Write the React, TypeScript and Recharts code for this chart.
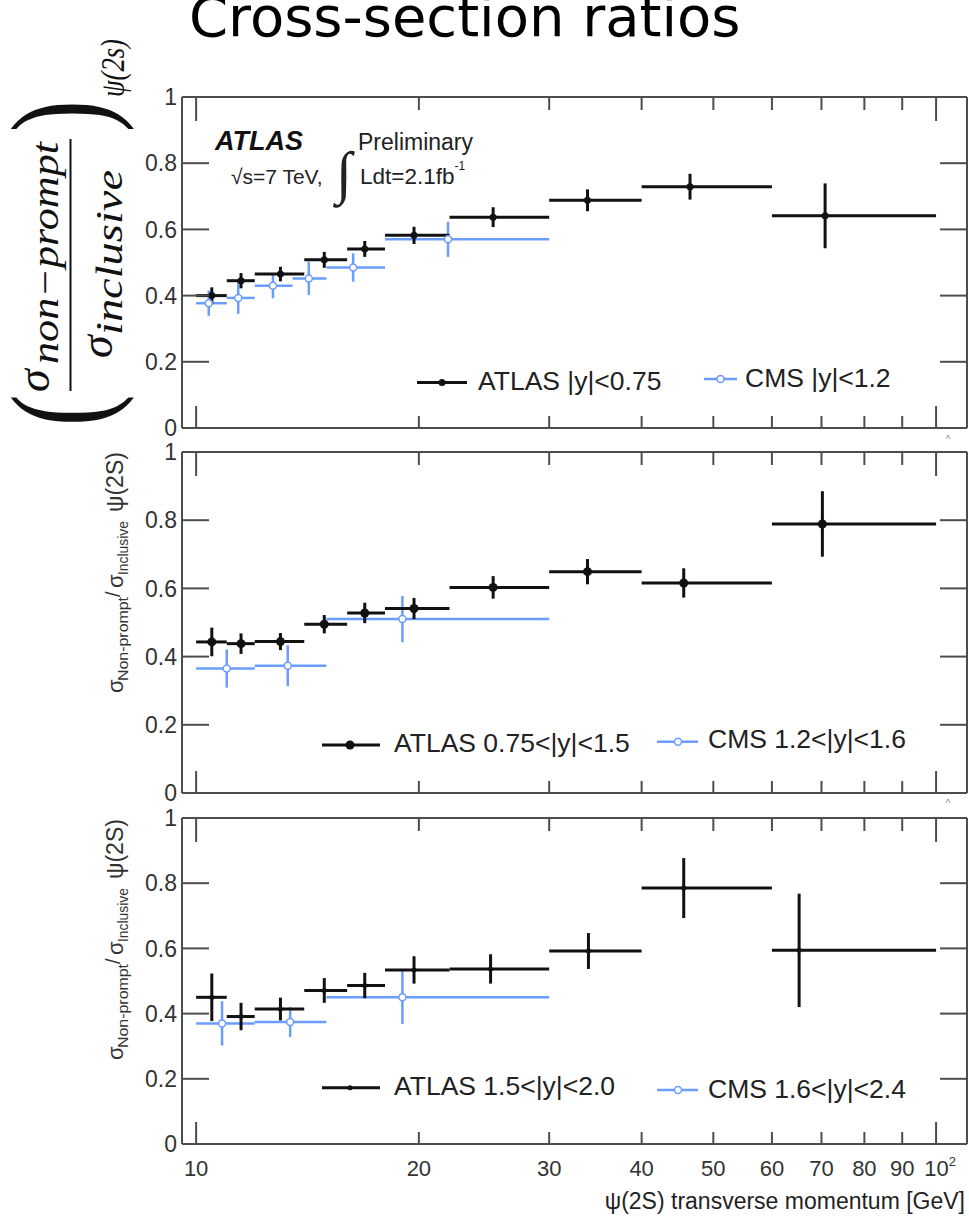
import React from 'react';
import { ScatterChart, Scatter, XAxis, YAxis, ErrorBar, Legend } from 'recharts';

// ---------- data ----------
const xTicks = [10, 20, 30, 40, 50, 60, 70, 80, 90, 100];
const yTicks = [0, 0.2, 0.4, 0.6, 0.8, 1];

const atlasBinEdges = [10, 11, 12, 14, 16, 18, 22, 30, 40, 60, 100];
const cmsBinEdgesCentral = [10, 11, 12, 13.5, 15, 18, 30];
const cmsBinEdgesForward = [10, 12, 15, 30];

// panel 1 : ATLAS |y|<0.75 , CMS |y|<1.2
const atlasCentres1 = [10.5, 11.5, 13.0, 14.9, 16.9, 19.7, 25.2, 33.8, 46.5, 70.8];
const atlasRatio1 = [0.4, 0.445, 0.465, 0.508, 0.541, 0.582, 0.637, 0.688, 0.729, 0.641];
const atlasError1 = [0.025, 0.023, 0.022, 0.024, 0.024, 0.026, 0.03, 0.033, 0.039, 0.098];
const cmsCentres1 = [10.4, 11.4, 12.7, 14.2, 16.3, 21.9];
const cmsRatio1 = [0.377, 0.393, 0.43, 0.452, 0.485, 0.57];
const cmsError1 = [0.038, 0.048, 0.038, 0.05, 0.043, 0.053];

// panel 2 : ATLAS 0.75<|y|<1.5 , CMS 1.2<|y|<1.6
const atlasCentres2 = [10.5, 11.5, 13.0, 14.9, 16.9, 19.7, 25.2, 33.8, 45.6, 70.2];
const atlasRatio2 = [0.443, 0.438, 0.444, 0.495, 0.528, 0.541, 0.603, 0.649, 0.616, 0.789];
const atlasError2 = [0.042, 0.03, 0.025, 0.027, 0.03, 0.031, 0.033, 0.037, 0.043, 0.096];
const cmsCentres2 = [11.0, 13.3, 19.0];
const cmsRatio2 = [0.365, 0.373, 0.51];
const cmsError2 = [0.056, 0.06, 0.068];

// panel 3 : ATLAS 1.5<|y|<2.0 , CMS 1.6<|y|<2.4
const atlasCentres3 = [10.5, 11.5, 13.0, 14.9, 16.9, 19.7, 25.0, 33.9, 45.6, 65.3];
const atlasRatio3 = [0.45, 0.391, 0.414, 0.471, 0.486, 0.534, 0.537, 0.592, 0.785, 0.594];
const atlasError3 = [0.073, 0.042, 0.035, 0.038, 0.039, 0.042, 0.045, 0.055, 0.092, 0.174];
const cmsCentres3 = [10.84, 13.4, 19.0];
const cmsRatio3 = [0.37, 0.374, 0.45];
const cmsError3 = [0.068, 0.046, 0.082];

const atlasLabels = ['ATLAS |y|<0.75', 'ATLAS 0.75<|y|<1.5', 'ATLAS 1.5<|y|<2.0'];
const cmsLabels = ['CMS |y|<1.2', 'CMS 1.2<|y|<1.6', 'CMS 1.6<|y|<2.4'];

// ---------- helpers ----------
type Row = { x: number; y: number; ex: [number, number]; ey: number };
function makeRows(edges: number[], centres: number[], ratio: number[], err: number[]): Row[] {
  return centres.map((c, i) => ({ x: c, y: ratio[i], ex: [c - edges[i], edges[i + 1] - c], ey: err[i] }));
}

const W = 969;
const FRAME = '#4d4d4d';
const ATLAS_C = '#111111';
const CMS_C = '#6b9dff';
const SANS = '"Liberation Sans", Arial, Helvetica, sans-serif';
const SERIF = '"Liberation Serif", "Times New Roman", serif';
const X_DOMAIN: [number, number] = [9.57, 110.1];

const BottomTick = (p: any) => {
  const v = p.payload.value;
  const major = v === 10 || v === 100;
  return (
    <g>
      <line x1={p.x} x2={p.x} y1={p.y} y2={p.y - (major ? 22 : 12)} stroke={FRAME} strokeWidth={2} />
      {p.showLabel && (
        <text x={v === 100 ? p.x + 4 : p.x} y={p.y + 32} textAnchor="middle" fontSize={22} fill="#333" fontFamily={SANS}>
          {v === 100 ? (
            <>
              10<tspan dy={-10} fontSize={13}>2</tspan>
            </>
          ) : (
            String(v)
          )}
        </text>
      )}
    </g>
  );
};

const TopTick = (p: any) => {
  const v = p.payload.value;
  const major = v === 10 || v === 100;
  return <line x1={p.x} x2={p.x} y1={p.y} y2={p.y + (major ? 24 : 13)} stroke={FRAME} strokeWidth={2} />;
};

const LeftTick = (p: any) => {
  const v = p.payload.value;
  return (
    <g>
      {v > 0 && v < 1 && <line x1={p.x} x2={p.x + 27} y1={p.y} y2={p.y} stroke={FRAME} strokeWidth={2} />}
      <text x={p.x - 5} y={p.y} dy="0.36em" textAnchor="end" fontSize={23} fill="#333" fontFamily={SANS}>
        {String(v)}
      </text>
    </g>
  );
};

const RightTick = (p: any) => {
  const v = p.payload.value;
  if (!(v > 0 && v < 1)) return <g />;
  return <line x1={p.x} x2={p.x - 27} y1={p.y} y2={p.y} stroke={FRAME} strokeWidth={2} />;
};

type LegendPos = {
  aLine: [number, number, number];
  aMark: number;
  aText: [number, number];
  cLine: [number, number, number];
  cMark: number;
  cText: [number, number];
};

type PanelProps = {
  top: number;
  height: number;
  marginTop: number;
  marginBottom: number;
  bottomAxisHeight: number;
  showXLabels: boolean;
  atlas: Row[];
  cms: Row[];
  atlasLabel: string;
  cmsLabel: string;
  atlasR: number;
  legend: LegendPos;
};

function Panel(props: PanelProps) {
  const { top, height, marginTop, marginBottom, bottomAxisHeight, showXLabels, atlas, cms, atlasLabel, cmsLabel, atlasR, legend } = props;
  const legendContent = () => (
    <svg width={W} height={height} style={{ display: 'block' }}>
      <line x1={legend.aLine[0]} x2={legend.aLine[1]} y1={legend.aLine[2]} y2={legend.aLine[2]} stroke={ATLAS_C} strokeWidth={3} />
      <circle cx={legend.aMark} cy={legend.aLine[2]} r={atlasR} fill={ATLAS_C} />
      <text x={legend.aText[0]} y={legend.aText[1]} fontSize={26.5} fill="#222" fontFamily={SANS}>
        {atlasLabel}
      </text>
      <line x1={legend.cLine[0]} x2={legend.cLine[1]} y1={legend.cLine[2]} y2={legend.cLine[2]} stroke={CMS_C} strokeWidth={2.5} />
      <circle cx={legend.cMark} cy={legend.cLine[2]} r={3.5} fill="#fff" stroke={CMS_C} strokeWidth={1.5} />
      <text x={legend.cText[0]} y={legend.cText[1]} fontSize={26.5} fill="#222" fontFamily={SANS}>
        {cmsLabel}
      </text>
    </svg>
  );
  return (
    <div style={{ position: 'absolute', left: 0, top, width: W, height }}>
      <ScatterChart width={W} height={height} margin={{ top: marginTop, right: 1, bottom: marginBottom, left: 142 }}>
        <XAxis
          xAxisId="b"
          orientation="bottom"
          type="number"
          dataKey="x"
          scale="log"
          domain={X_DOMAIN}
          allowDataOverflow
          ticks={xTicks}
          interval={0}
          tickSize={0}
          tickMargin={0}
          tickLine={false}
          axisLine={{ stroke: FRAME, strokeWidth: 2 }}
          height={bottomAxisHeight}
          tick={(p: any) => <BottomTick {...p} showLabel={showXLabels} />}
        />
        <XAxis
          xAxisId="t"
          orientation="top"
          type="number"
          dataKey="x"
          scale="log"
          domain={X_DOMAIN}
          allowDataOverflow
          ticks={xTicks}
          interval={0}
          tickSize={0}
          tickMargin={0}
          tickLine={false}
          axisLine={{ stroke: FRAME, strokeWidth: 2 }}
          height={1}
          tick={(p: any) => <TopTick {...p} />}
        />
        <YAxis
          yAxisId="l"
          orientation="left"
          type="number"
          dataKey="y"
          domain={[0, 1]}
          allowDataOverflow
          ticks={yTicks}
          interval={0}
          tickSize={0}
          tickMargin={0}
          tickLine={false}
          axisLine={{ stroke: FRAME, strokeWidth: 2 }}
          width={40}
          tick={(p: any) => <LeftTick {...p} />}
        />
        <YAxis
          yAxisId="r"
          orientation="right"
          type="number"
          dataKey="y"
          domain={[0, 1]}
          allowDataOverflow
          ticks={yTicks}
          interval={0}
          tickSize={0}
          tickMargin={0}
          tickLine={false}
          axisLine={{ stroke: FRAME, strokeWidth: 2 }}
          width={1}
          tick={(p: any) => <RightTick {...p} />}
        />
        <Scatter
          name={cmsLabel}
          data={cms}
          xAxisId="b"
          yAxisId="l"
          fill={CMS_C}
          isAnimationActive={false}
          shape={(s: any) => <circle cx={s.cx} cy={s.cy} r={3.5} fill="#fff" stroke={CMS_C} strokeWidth={1.5} />}
        >
          <ErrorBar dataKey="ex" direction="x" width={0} stroke={CMS_C} strokeWidth={2.5} />
          <ErrorBar dataKey="ey" direction="y" width={0} stroke={CMS_C} strokeWidth={2.5} />
        </Scatter>
        <Scatter
          name={atlasLabel}
          data={atlas}
          xAxisId="b"
          yAxisId="l"
          fill={ATLAS_C}
          isAnimationActive={false}
          shape={(s: any) => <circle cx={s.cx} cy={s.cy} r={atlasR} fill={ATLAS_C} />}
        >
          <ErrorBar dataKey="ex" direction="x" width={0} stroke={ATLAS_C} strokeWidth={3} />
          <ErrorBar dataKey="ey" direction="y" width={0} stroke={ATLAS_C} strokeWidth={3} />
        </Scatter>
        <Legend
          layout="horizontal"
          verticalAlign="middle"
          align="center"
          content={legendContent}
          wrapperStyle={{ left: 0, top: 0, width: W, height, pointerEvents: 'none' }}
        />
      </ScatterChart>
    </div>
  );
}

function SmallYLabel({ startY }: { startY: number }) {
  // rotated label: σ_Non-prompt / σ_Inclusive ψ(2S)
  return (
    <g transform={`translate(123, ${startY}) rotate(-90)`} fontFamily={SANS} fill="#333">
      <text x={0} y={0} fontSize={22}>σ</text>
      <text x={12} y={5} fontSize={15.5} textLength={84} lengthAdjust="spacingAndGlyphs">Non-prompt</text>
      <text x={96} y={-3} fontSize={20}>/</text>
      <text x={105} y={0} fontSize={22}>σ</text>
      <text x={118} y={5} fontSize={14.5} textLength={54} lengthAdjust="spacingAndGlyphs">Inclusive</text>
      <text x={181} y={0} fontSize={23} textLength={60} lengthAdjust="spacingAndGlyphs">ψ(2S)</text>
    </g>
  );
}

function Overlay() {
  return (
    <svg width={W} height={1218} style={{ position: 'absolute', left: 0, top: 0, pointerEvents: 'none' }}>
      {/* title */}
      <text x={189} y={36} fontSize={56} fontFamily='"DejaVu Sans", sans-serif' fill="#000">
        Cross-section ratios
      </text>

      {/* panel 1 y label */}
      <g transform="translate(72, 265) rotate(-90)" fontFamily={SERIF} fontStyle="italic" fill="#111">
        <text transform="translate(-161, 33) scale(1, 1.42)" fontSize={95} fontStyle="normal">(</text>
        <text x={-127} y={-23} fontSize={46}>σ</text>
        <text x={-99} y={-14} fontSize={38} textLength={222} lengthAdjust="spacingAndGlyphs">non−prompt</text>
        <line x1={-126} x2={126} y1={-1.5} y2={-1.5} stroke="#111" strokeWidth={2} />
        <text x={-93} y={40} fontSize={46}>σ</text>
        <text x={-70} y={50} fontSize={38} textLength={165} lengthAdjust="spacingAndGlyphs">inclusive</text>
        <text transform="translate(133, 33) scale(1, 1.42)" fontSize={95} fontStyle="normal">)</text>
        <text x={168} y={52} fontSize={33} textLength={58} lengthAdjust="spacingAndGlyphs">ψ(2s)</text>
      </g>

      {/* panel 2, 3 y labels */}
      <SmallYLabel startY={693} />
      <SmallYLabel startY={1060} />

      {/* ATLAS annotation */}
      <text x={215} y={150} fontSize={27} fontWeight="bold" fontStyle="italic" fontFamily={SANS} fill="#111">
        ATLAS
      </text>
      <text x={231} y={184} fontSize={21} fontFamily={SANS} fill="#222">
        √s=7 TeV,
      </text>
      <text x={336} y={192} fontSize={58} fontFamily={SERIF} fill="#222">
        ∫
      </text>
      <text x={358} y={150} fontSize={23} fontFamily={SANS} fill="#222">
        Preliminary
      </text>
      <text x={360} y={184} fontSize={22.5} fontFamily={SANS} fill="#222">
        Ldt=2.1fb<tspan dy={-14} fontSize={12}>-1</tspan>
      </text>

      {/* x axis title */}
      <text x={965} y={1209} textAnchor="end" fontSize={23} fontFamily={SANS} fill="#222">
        ψ(2S) transverse momentum [GeV]
      </text>

      {/* clipped superscript remnants */}
      <text x={948} y={443} fontSize={10} textAnchor="middle" fontFamily={SANS} fill="#888">^</text>
      <text x={948} y={807} fontSize={10} textAnchor="middle" fontFamily={SANS} fill="#888">^</text>
    </svg>
  );
}

export default function App() {
  const atlas1 = makeRows(atlasBinEdges, atlasCentres1, atlasRatio1, atlasError1);
  const cms1 = makeRows(cmsBinEdgesCentral, cmsCentres1, cmsRatio1, cmsError1);
  const atlas2 = makeRows(atlasBinEdges, atlasCentres2, atlasRatio2, atlasError2);
  const cms2 = makeRows(cmsBinEdgesForward, cmsCentres2, cmsRatio2, cmsError2);
  const atlas3 = makeRows(atlasBinEdges, atlasCentres3, atlasRatio3, atlasError3);
  const cms3 = makeRows(cmsBinEdgesForward, cmsCentres3, cmsRatio3, cmsError3);

  return (
    <div style={{ position: 'absolute', left: 0, top: 0, width: W, height: 1218, background: '#fff', overflow: 'hidden' }}>
      <style>{'.recharts-surface { overflow: visible; }'}</style>
      <Panel
        top={0}
        height={440}
        marginTop={96}
        marginBottom={1}
        bottomAxisHeight={11}
        showXLabels={false}
        atlas={atlas1}
        cms={cms1}
        atlasLabel={atlasLabels[0]}
        cmsLabel={cmsLabels[0]}
        atlasR={3.5}
        legend={{ aLine: [417, 467, 382.5], aMark: 442, aText: [478, 390], cLine: [704, 737, 379], cMark: 720.5, cText: [745, 387] }}
      />
      <Panel
        top={440}
        height={363}
        marginTop={11}
        marginBottom={3}
        bottomAxisHeight={7}
        showXLabels={false}
        atlas={atlas2}
        cms={cms2}
        atlasLabel={atlasLabels[1]}
        cmsLabel={cmsLabels[1]}
        atlasR={4.5}
        legend={{ aLine: [322, 380, 305], aMark: 350, aText: [394, 312], cLine: [657, 698, 301.7], cMark: 678, cText: [708, 308] }}
      />
      <Panel
        top={803}
        height={415}
        marginTop={14}
        marginBottom={14}
        bottomAxisHeight={60}
        showXLabels={true}
        atlas={atlas3}
        cms={cms3}
        atlasLabel={atlasLabels[2]}
        cmsLabel={cmsLabels[2]}
        atlasR={2.5}
        legend={{ aLine: [322, 380, 284.7], aMark: 350, aText: [394, 292], cLine: [657, 698, 287], cMark: 678, cText: [708, 295] }}
      />
      <Overlay />
    </div>
  );
}
